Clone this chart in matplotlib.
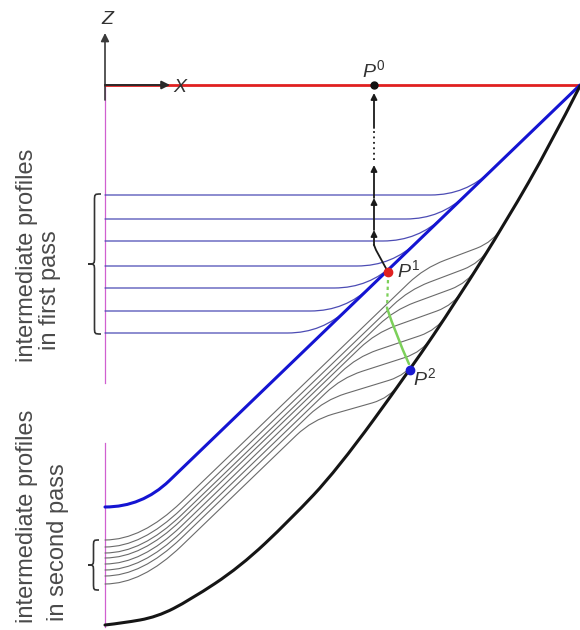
import numpy as np
import matplotlib.pyplot as plt
from matplotlib.path import Path
from matplotlib.patches import PathPatch

plt.rcParams['font.family'] = ['Liberation Sans', 'DejaVu Sans']
plt.rcParams['mathtext.fontset'] = 'custom'
plt.rcParams['mathtext.rm'] = 'Liberation Sans'
plt.rcParams['mathtext.it'] = 'Liberation Sans:italic'

# sketch coordinates: x to the right, y downward (origin of X/Z at axis_x, axis_y)
axis_x, axis_y = 105, 85
right_x = 580

# final profile (after second pass)
final_x = [580, 550, 507, 457, 410, 337, 290, 240, 190, 157, 123, 105]
final_y = [86, 145, 220, 300, 370, 470, 520, 567, 600, 617, 623, 625]

# profile after first pass: flat bottom, corner, straight wall up to the clamp
pass1_x = [105, 142, 580]
pass1_y = [507, 507, 85]

# intermediate profiles, first pass (flat level of the sheet)
first_levels = [195, 219, 241, 266, 288, 311, 333]

# intermediate profiles, second pass
second_levels = [540, 547, 553, 558, 564, 570, 576, 584]
second_branch_y = [268, 290, 310, 333, 357, 378, 400, 420]
second_join_y = [242, 263, 283, 305, 330, 352, 375, 398]

P0 = (374, 85)
P1 = (388, 272)
P2 = (410, 370)

# tool path arrow from P1 back to P0
arrow_x = 374
arrow_heads = [230, 198, 165, 93]
arrow_dots = (160, 128)

# P1 -> P2 move (green)
green_x = [388, 387, 396, 409]
green_y = [280, 308, 335, 364]


def rounded(xs, ys, radii):
    pts = np.column_stack([xs, ys]).astype(float)
    n = len(pts)
    verts = [pts[0]]
    codes = [Path.MOVETO]
    for i in range(1, n - 1):
        a, b, c = pts[i - 1], pts[i], pts[i + 1]
        d1 = np.linalg.norm(b - a)
        d2 = np.linalg.norm(c - b)
        r = radii[i - 1] if np.ndim(radii) else radii
        t1 = min(r, d1 if i == 1 else d1 / 2)
        t2 = min(r, d2 if i == n - 2 else d2 / 2)
        s = b + (a - b) / d1 * t1
        e = b + (c - b) / d2 * t2
        verts += [s, b, e]
        codes += [Path.LINETO, Path.CURVE3, Path.CURVE3]
    verts.append(pts[-1])
    codes.append(Path.LINETO)
    return Path(verts, codes)


def draw(ax, path, **kw):
    ax.add_patch(PathPatch(path, fill=False, capstyle='round', joinstyle='round', **kw))


def brace(ax, xr, yt, yb, w, **kw):
    xm = xr - w / 2
    ym = (yt + yb) / 2
    c = 7
    verts = [(xr, yt), (xm, yt), (xm, yt), (xm, yt + c), (xm, ym - c),
             (xm, ym), (xm, ym), (xr - w, ym),
             (xm, ym), (xm, ym), (xm, ym + c), (xm, yb - c),
             (xm, yb), (xm, yb), (xr, yb)]
    codes = [Path.MOVETO] + [Path.CURVE4] * 3 + [Path.LINETO] + [Path.CURVE4] * 3 \
        + [Path.CURVE4] * 3 + [Path.LINETO] + [Path.CURVE4] * 3
    ax.add_patch(PathPatch(Path(verts, codes), fill=False, **kw))


def wall_x(y):
    # x of the straight first-pass wall at height y
    return pass1_x[2] + (y - pass1_y[2]) * (pass1_x[1] - pass1_x[2]) / (pass1_y[1] - pass1_y[2])


fig = plt.figure(figsize=(5.8, 6.3), dpi=100)
ax = fig.add_axes([0, 0, 1, 1])
ax.set_xlim(0, 580)
ax.set_ylim(630, 0)
ax.axis('off')

# symmetry axis (pink), broken between the two groups
ax.plot([axis_x, axis_x], [axis_y, 383], color='#d060d0', lw=0.9, zorder=1)
ax.plot([axis_x, axis_x], [443, 627], color='#d060d0', lw=0.9, zorder=1)

# sheet clamp level
ax.plot([axis_x, right_x], [axis_y, axis_y], color='#e02020', lw=2.0, zorder=2)

# coordinate arrows
ax.annotate('', xy=(axis_x, 33), xytext=(axis_x, 100),
            arrowprops=dict(arrowstyle='-|>', color='#3a3a3a', lw=1.2,
                            mutation_scale=12, shrinkA=0, shrinkB=0), zorder=5)
ax.annotate('', xy=(170, axis_y), xytext=(axis_x, axis_y),
            arrowprops=dict(arrowstyle='-|>', color='#2a2a2a', lw=1.4,
                            mutation_scale=12, shrinkA=0, shrinkB=0), zorder=5)
ax.text(107, 20, 'Z', fontsize=14, style='italic', color='#333333', ha='center', va='center')
ax.text(180, 88, 'X', fontsize=14, style='italic', color='#333333', ha='center', va='center')

# second pass intermediate profiles (gray)
for yl, yb, yj in zip(second_levels, second_branch_y, second_join_y):
    d = yl - pass1_y[0]
    bx = wall_x(yb - d)
    jx = np.interp(yj, final_y, final_x)
    j2x = np.interp(yj - 35, final_y, final_x)
    draw(ax, rounded([axis_x, pass1_x[1], bx, jx, j2x],
                     [yl, yl, yb, yj, yj - 35], [55, 22, 18]),
         edgecolor='#6a6a6a', lw=0.8, zorder=3)

# first pass intermediate profiles (thin blue)
ux, uy = pass1_x[2] - pass1_x[1], pass1_y[2] - pass1_y[1]
ul = np.hypot(ux, uy)
for h in first_levels:
    ix = wall_x(h)
    draw(ax, rounded([axis_x, ix, ix + 45 * ux / ul], [h, h, h + 45 * uy / ul], 35),
         edgecolor='#4c4cb4', lw=0.9, zorder=3)

# profile after first pass
draw(ax, rounded(pass1_x, pass1_y, 38), edgecolor='#1414d2', lw=2.2, zorder=4)

# final profile
draw(ax, rounded(final_x, final_y, 1e9), edgecolor='#151515', lw=2.2, zorder=4)

# return move P1 -> P0
ax.plot([P1[0], arrow_x + 2, arrow_x], [P1[1], 250, 245], color='#1a1a1a', lw=1.3, zorder=6)
tails = [245] + arrow_heads[:-1]
for tail, head in zip(tails, arrow_heads):
    if head == arrow_heads[-1]:
        tail = arrow_dots[1]
    ax.annotate('', xy=(arrow_x, head), xytext=(arrow_x, tail),
                arrowprops=dict(arrowstyle='-|>', color='#1a1a1a', lw=1.3,
                                mutation_scale=9, shrinkA=0, shrinkB=0), zorder=6)
ax.plot([arrow_x, arrow_x], arrow_dots, color='#1a1a1a', lw=1.3, ls=(0, (1, 2)), zorder=6)

# step down P1 -> P2
ax.plot(green_x[:2], green_y[:2], color='#7cd05a', lw=1.6, ls=(0, (1.5, 1.5)), zorder=6)
draw(ax, rounded(green_x[1:], green_y[1:], 1e9), edgecolor='#7cd05a', lw=1.8, zorder=6)

# points
ax.plot(*P0, 'o', color='#111111', ms=5, zorder=7)
ax.plot(*P1, 'o', color='#e02020', ms=6, zorder=7)
ax.plot(*P2, 'o', color='#1a1ad0', ms=6, zorder=7)
ax.text(374, 70, r'$P^{\mathrm{0}}$', fontsize=14, color='#333333', ha='center', va='center')
ax.text(409, 270, r'$P^{\mathrm{1}}$', fontsize=14, color='#333333', ha='center', va='center')
ax.text(425, 378, r'$P^{\mathrm{2}}$', fontsize=14, color='#333333', ha='center', va='center')

# group labels
brace(ax, 101, 194, 334, 13, edgecolor='#333333', lw=1.2)
brace(ax, 99, 540, 590, 11, edgecolor='#333333', lw=1.2)
txt = dict(rotation=90, ha='center', va='bottom', fontsize=17, color='#4a4a4a')
ax.text(27, 362, 'intermediate profiles', **txt)
ax.text(50, 350, 'in first pass', **txt)
ax.text(27, 623, 'intermediate profiles', **txt)
ax.text(58, 621, 'in second pass', **txt)

fig.savefig('out.png', dpi=100)
